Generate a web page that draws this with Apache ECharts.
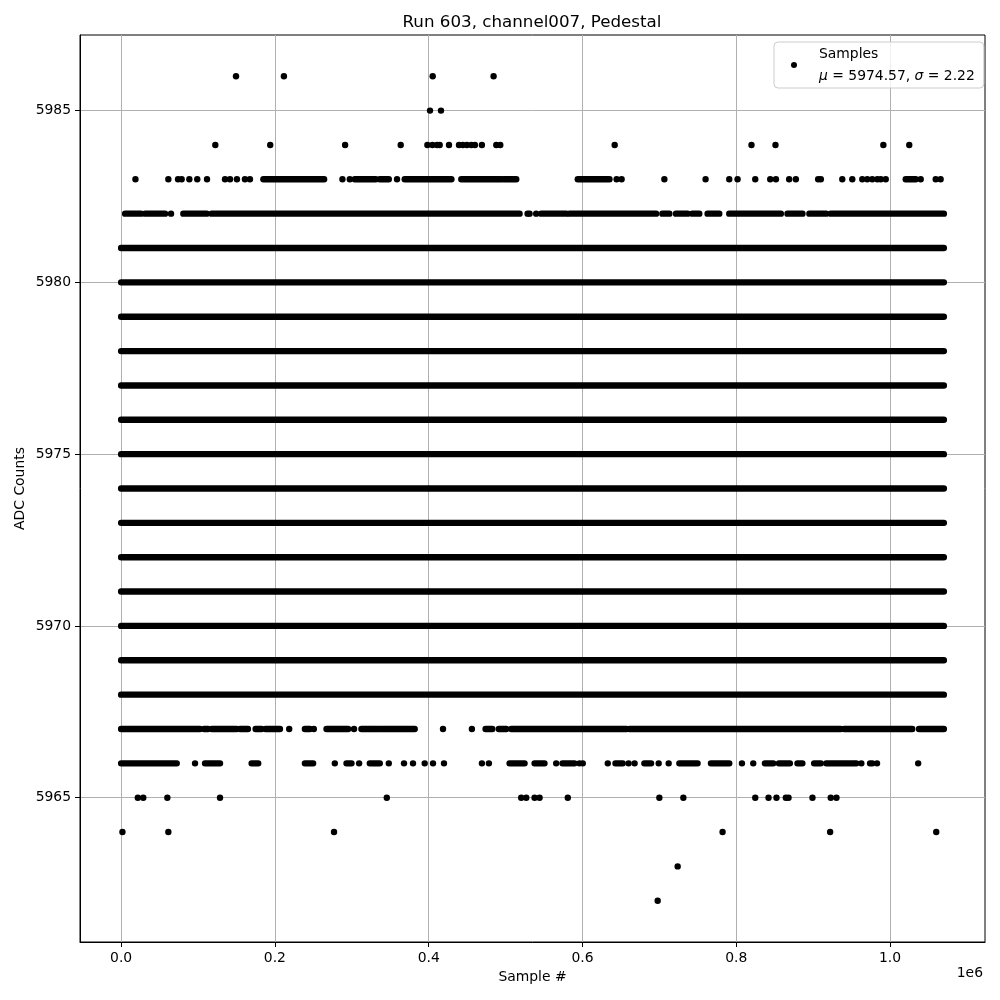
<!DOCTYPE html>
<html>
<head>
<meta charset="utf-8">
<script src="https://cdn.jsdelivr.net/npm/echarts@6/dist/echarts.min.js"></script>
<style>html,body{margin:0;padding:0;background:#fff}#chart{width:1000px;height:1000px}</style>
</head>
<body>
<div id="chart"></div>
<script>
// ---- data (sample # , ADC counts) ----
const titleText = 'Run 603, channel007, Pedestal';
const xAxisName = 'Sample #';
const yAxisName = 'ADC Counts';
const xTickValues = [0, 200000, 400000, 600000, 800000, 1000000];
const yTickValues = [5965, 5970, 5975, 5980, 5985];
const xRange = [-53500, 1123500];
const yRange = [5960.8, 5987.2];
const legendStats = [5974.57, 2.22]; // mu, sigma
const lastSample = 1070000;

// rows where samples occur continuously over the whole run
const fullRows = [5968, 5969, 5970, 5971, 5972, 5973, 5974, 5975, 5976, 5977, 5978, 5979, 5980, 5981];

// dense stretches [first sample, last sample]
const row5982Segments = [[5200, 25600], [31200, 57100], [80900, 111200], [117700, 518200],
  [546400, 578800], [583100, 695700], [703900, 713000], [721600, 736700], [742900, 751900],
  [762700, 777900], [790900, 858000], [866600, 886100], [895100, 916800], [922900, 1070000]];
const row5982Points = [64900, 528600, 531200, 539800];

const row5983Segments = [[185000, 264000], [303900, 331200], [336400, 348100], [368800, 429500],
  [442400, 494400], [497400, 513900], [593900, 635100], [1020400, 1033400]];
const row5983Points = [18600, 61400, 74000, 78700, 88700, 99000, 111700, 135100, 141600, 150600,
  161000, 167500, 287800, 297400, 358800, 644400, 650900, 706500, 760100, 790900, 801700,
  824700, 844200, 851600, 868800, 877500, 906500, 910000, 937900, 950900, 963900, 970400,
  976900, 983500, 987900, 994400, 1039900, 1059400, 1065800];

const row5984 = [122500, 193900, 291300, 363600, 398300, 404800, 410800, 414300, 426400, 439400,
  444500, 449700, 455500, 460100, 469200, 487900, 493100, 641900, 819800, 851000, 991300, 1025000];
const row5985 = [401700, 416000];
const row5986 = [149400, 211700, 405200, 484400];

const row5967Segments = [[0, 52900], [54500, 102600], [107800, 113000], [117800, 150300],
  [154500, 164900], [174900, 182600], [187900, 206500], [239000, 245500], [267100, 295200],
  [312500, 336400], [338400, 381800], [474000, 482700], [491200, 500800], [507400, 657100],
  [661000, 935800], [940300, 1028900], [1037700, 1070000]];
const row5967Points = [218600, 250600, 302900, 418600, 456200];

const row5966Segments = [[0, 72300], [109100, 128600], [169700, 178300], [239000, 249700],
  [293100, 299600], [323400, 336400], [505200, 524700], [537700, 550600], [574000, 589600],
  [642900, 652300], [680500, 689200], [726000, 749700], [767100, 790900], [837300, 848100],
  [855500, 869700], [879600, 886000], [901300, 909900], [917100, 953200], [974000, 976900]];
const row5966Points = [96100, 277900, 309500, 348100, 367900, 379600, 394800, 405600, 419900,
  469200, 478300, 565800, 596100, 600400, 632900, 660000, 667800, 699100, 712100, 807400,
  822100, 956100, 962700, 983100, 1036600];

const row5965 = [21700, 28800, 60100, 128600, 345500, 520300, 526900, 537700, 544200, 580900,
  700000, 731200, 824700, 842000, 852300, 864500, 868000, 899100, 922900, 930300];
const row5964 = [1700, 61400, 276900, 782200, 922100, 1060100];
const row5963 = [723800];
const row5962 = [697800];

// ---- build [x0, x1, y] items ----
const marks = [];
fullRows.forEach(y => marks.push([0, lastSample, y]));
const addSegs = (segs, y) => segs.forEach(s => marks.push([s[0], s[1], y]));
const addPts = (pts, y) => pts.forEach(x => marks.push([x, x, y]));
addSegs(row5982Segments, 5982); addPts(row5982Points, 5982);
addSegs(row5983Segments, 5983); addPts(row5983Points, 5983);
addPts(row5984, 5984); addPts(row5985, 5985); addPts(row5986, 5986);
addSegs(row5967Segments, 5967); addPts(row5967Points, 5967);
addSegs(row5966Segments, 5966); addPts(row5966Points, 5966);
addPts(row5965, 5965); addPts(row5964, 5964); addPts(row5963, 5963); addPts(row5962, 5962);

const FONT = 'DejaVu Sans';
const R = 3.2;
const chart = echarts.init(document.getElementById('chart'), null, {renderer: 'canvas'});
chart.setOption({
  animation: false,
  backgroundColor: '#fff',
  title: {
    text: titleText, left: 527, top: 9, textAlign: 'center',
    textStyle: {fontFamily: FONT, fontSize: 16.7, fontWeight: 'normal', color: '#000'}
  },
  legend: {
    left: 774, top: 42, orient: 'vertical',
    padding: [1, 9, 1, 17],
    itemWidth: 40, itemHeight: 6,
    backgroundColor: 'rgba(255,255,255,0.8)',
    borderColor: '#cccccc', borderWidth: 1, borderRadius: 4,
    data: [{name: 'Samples', icon: 'circle', itemStyle: {color: '#000'}}],
    formatter: () => '{n|Samples}\n{i|μ}{n| = ' + legendStats[0].toFixed(2) + ', }{i|σ}{n| = ' + legendStats[1].toFixed(2) + '}',
    textStyle: {
      fontFamily: FONT, fontSize: 13.9, color: '#000', lineHeight: 22,
      rich: {
        n: {fontFamily: FONT, fontSize: 13.9, color: '#000', lineHeight: 22},
        i: {fontFamily: FONT, fontSize: 13.9, color: '#000', fontStyle: 'italic', lineHeight: 22}
      }
    }
  },
  grid: {left: 80, right: 15, top: 35, bottom: 58, show: true, borderColor: '#000', borderWidth: 1, backgroundColor: 'transparent'},
  xAxis: {
    type: 'value', min: xRange[0], max: xRange[1],
    name: xAxisName, nameLocation: 'middle', nameGap: 27,
    nameTextStyle: {fontFamily: FONT, fontSize: 13.9, color: '#000'},
    axisLine: {show: true, onZero: false, lineStyle: {color: '#000', width: 1}},
    axisTick: {show: true, length: 5, lineStyle: {color: '#000'}, customValues: xTickValues},
    axisLabel: {show: true, customValues: xTickValues, margin: 9, fontFamily: FONT, fontSize: 13.9, color: '#000',
      formatter: v => (v / 1e6).toFixed(1)},
    splitLine: {show: true, lineStyle: {color: '#b0b0b0', width: 1}}
  },
  yAxis: {
    type: 'value', min: yRange[0], max: yRange[1],
    name: yAxisName, nameLocation: 'middle', nameGap: 53, nameRotate: 90, nameMoveOverlap: false,
    nameTextStyle: {fontFamily: FONT, fontSize: 13.9, color: '#000'},
    axisLine: {show: true, onZero: false, lineStyle: {color: '#000', width: 1}},
    axisTick: {show: true, length: 5, lineStyle: {color: '#000'}, customValues: yTickValues},
    axisLabel: {show: true, customValues: yTickValues, margin: 9, fontFamily: FONT, fontSize: 13.9, color: '#000',
      formatter: v => String(v)},
    splitLine: {show: true, lineStyle: {color: '#b0b0b0', width: 1}}
  },
  graphic: [{
    type: 'text', right: 17, top: 966,
    style: {text: '1e6', fontFamily: FONT, fontSize: 13.9, fill: '#000'}
  }],
  series: [{
    name: 'Samples', type: 'custom',
    itemStyle: {color: '#000'},
    encode: {x: [0, 1], y: 2},
    data: marks,
    renderItem: (params, api) => {
      const p0 = api.coord([api.value(0), api.value(2)]);
      const p1 = api.coord([api.value(1), api.value(2)]);
      return {
        type: 'rect',
        shape: {x: p0[0] - R, y: p0[1] - R, width: p1[0] - p0[0] + 2 * R, height: 2 * R, r: R},
        style: {fill: '#000'}
      };
    }
  }]
});
</script>
</body>
</html>
